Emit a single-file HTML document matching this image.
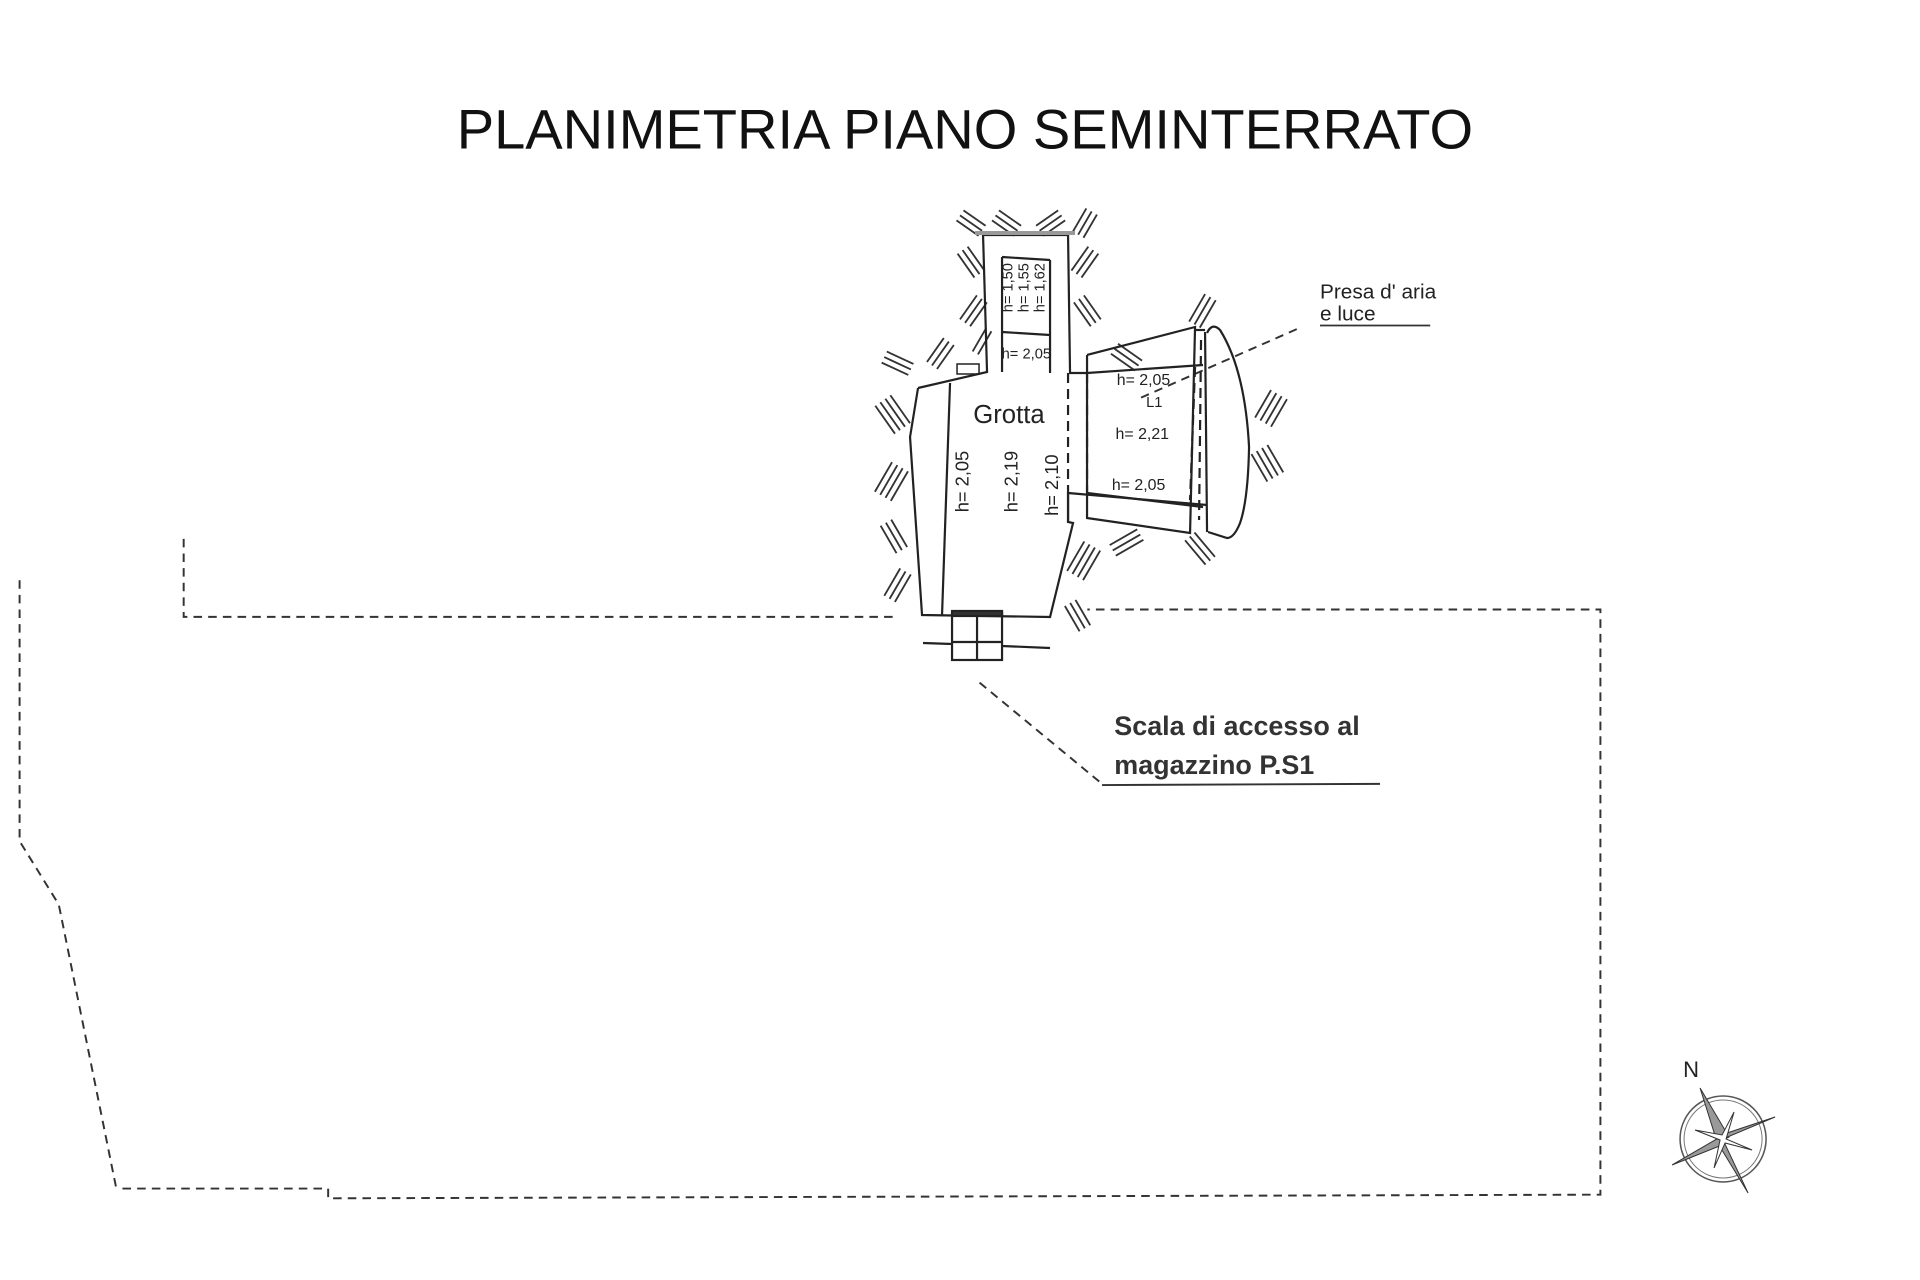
<!DOCTYPE html>
<html><head><meta charset="utf-8"><style>
html,body{margin:0;padding:0;background:#fff;}
svg{display:block;}
text{font-family:"Liberation Sans",sans-serif;fill:#222;}
</style></head><body>
<svg id="s" width="1920" height="1280" viewBox="0 0 1568 1050" preserveAspectRatio="none" xmlns="http://www.w3.org/2000/svg">
<rect width="1568" height="1050" fill="#fff"/>
<text x="788" y="122" text-anchor="middle" font-size="46" textLength="830" lengthAdjust="spacingAndGlyphs" style="fill:#111">PLANIMETRIA  PIANO  SEMINTERRATO</text>

<g fill="none" stroke="#333" stroke-width="1.6" stroke-dasharray="7,5">
<polyline points="16,476 16,690 48,742 95,975"/>
<polyline points="100,975 268,975 268,983 1303,980 1307,980 1307,500 888,500"/>
<polyline points="150,442 150,506 730,506"/>
<polyline points="800,560 900,643"/>
<polyline points="1059,270 930,327"/>
</g>
<line x1="900" y1="644" x2="1127" y2="643" stroke="#333" stroke-width="1.6"/>
<line x1="1078" y1="267" x2="1168" y2="267" stroke="#333" stroke-width="1.4"/>
<text x="1078" y="245" font-size="17">Presa d' aria</text>
<text x="1078" y="263" font-size="17">e luce</text>
<text x="910" y="603" font-size="22" style="font-weight:bold;fill:#333">Scala di accesso al</text>
<text x="910" y="635" font-size="22" style="font-weight:bold;fill:#333">magazzino P.S1</text>

<g id="hatch" stroke="#333" stroke-width="1.5"></g>

<g transform="scale(0.8167 0.8203)" fill="none" stroke="#222" stroke-width="2.2">
<polyline points="918,388 987,372 983,235 1068,235 1070,373 1087,373"/>
<polyline points="918,388 910,437 922,615 1050,617 1073,523 1068,522 1068,493 1207,505"/>
<line x1="1068" y1="493" x2="1068" y2="522"/>
<polyline points="950,383 942,615"/>
<polyline points="1002,257 1002,372"/><polyline points="1050,260 1050,373"/>
<line x1="1002" y1="257" x2="1050" y2="260"/>
<line x1="1002" y1="332" x2="1050" y2="335"/>
<rect x="957" y="364" width="22" height="10" stroke-width="1.5"/>
<line x1="975" y1="233" x2="1075" y2="233" stroke="#999" stroke-width="4"/>
<polyline points="1087,355 1195,327 1190,533 1087,518 1087,355"/>
<line x1="1087" y1="373" x2="1203" y2="365"/>
<line x1="1087" y1="493" x2="1203" y2="507"/>
<line x1="1205" y1="332" x2="1207" y2="532"/>
<line x1="1195" y1="330" x2="1205" y2="330"/>
<path d="M1207,333 Q1212,322 1220,330 Q1245,370 1249,447 Q1248,500 1240,523 Q1234,538 1227,538 L1208,532"/>
<g stroke-dasharray="10,6"><line x1="1068" y1="373" x2="1068" y2="493"/><line x1="1087" y1="373" x2="1087" y2="493"/><line x1="1195" y1="367" x2="1190" y2="500"/><line x1="1201" y1="340" x2="1199" y2="520"/></g>
<rect x="952" y="613" width="50" height="47"/>
<line x1="977" y1="613" x2="977" y2="660"/><line x1="952" y1="642" x2="1002" y2="642"/>
<line x1="923" y1="643" x2="952" y2="644"/><line x1="1002" y1="646" x2="1050" y2="648"/>
<rect x="952" y="611" width="50" height="5" fill="#333"/>
</g>

<text x="824" y="347" text-anchor="middle" font-size="21">Grotta</text>
<text x="818" y="294" font-size="12">h= 2,05</text>
<text x="912" y="316" font-size="13">h= 2,05</text>
<text x="936" y="334" font-size="12">L1</text>
<text x="911" y="360" font-size="13">h= 2,21</text>
<text x="908" y="402" font-size="13">h= 2,05</text>
<text transform="translate(791,395) rotate(-90)" text-anchor="middle" font-size="15">h= 2,05</text>
<text transform="translate(831,395) rotate(-90)" text-anchor="middle" font-size="15">h= 2,19</text>
<text transform="translate(864,398) rotate(-90)" text-anchor="middle" font-size="15">h= 2,10</text>
<text transform="translate(827,236) rotate(-90)" text-anchor="middle" font-size="12">h= 1,50</text>
<text transform="translate(840,236) rotate(-90)" text-anchor="middle" font-size="12">h= 1,55</text>
<text transform="translate(853,236) rotate(-90)" text-anchor="middle" font-size="12">h= 1,62</text>

<g transform="scale(0.8167 0.8203)">
<text x="1683" y="1077" font-size="22">N</text>
<circle cx="1723" cy="1139" r="43" fill="none" stroke="#555" stroke-width="1.5"/>
<circle cx="1723" cy="1139" r="39" fill="none" stroke="#777" stroke-width="1"/>
<g stroke="#333" stroke-width="1" fill="#999">
<polygon points="1700,1088 1729,1137 1723,1140 1748,1193 1717,1142"/>
<polygon points="1672,1165 1722,1145 1725,1138 1775,1117 1727,1133"/>
<polygon points="1734,1112 1726,1139 1752,1150 1725,1143 1714,1168 1720,1140 1695,1130 1722,1135" fill="#fff"/>
</g>
</g>
</svg>
<script>
var g=document.getElementById('hatch');
function H(x,y,ang,n,len,gap){
 var a=ang*Math.PI/180,dx=Math.cos(a)*len/2,dy=Math.sin(a)*len/2,px=-Math.sin(a)*gap,py=Math.cos(a)*gap;
 for(var i=0;i<n;i++){var cx=x+px*(i-(n-1)/2),cy=y+py*(i-(n-1)/2);
  var l=document.createElementNS('http://www.w3.org/2000/svg','line');
  l.setAttribute('x1',cx-dx);l.setAttribute('y1',cy-dy);l.setAttribute('x2',cx+dx);l.setAttribute('y2',cy+dy);g.appendChild(l);}
}
H(793,183,35,3,22,5);H(822,183,35,3,22,5);H(858,183,-35,3,22,5);H(886,183,-60,3,22,5);
H(793,215,55,3,24,5);H(795,255,-55,3,24,5);H(802,280,-60,2,22,5);
H(886,215,-55,3,24,5);H(888,255,55,3,24,5);
H(733,298,25,3,24,5);H(768,290,-55,3,24,5);
H(729,340,55,4,28,5);H(728,395,-60,4,28,5);H(730,440,60,3,26,5);H(733,480,-60,3,26,5);
H(885,460,-60,4,28,5);H(880,505,60,3,24,5);
H(920,293,35,3,24,5);H(982,255,-60,3,26,5);
H(1038,335,-60,4,26,5);H(1035,380,60,4,26,5);
H(920,445,-30,3,26,5);H(980,450,50,3,26,5);
</script>
</body></html>
